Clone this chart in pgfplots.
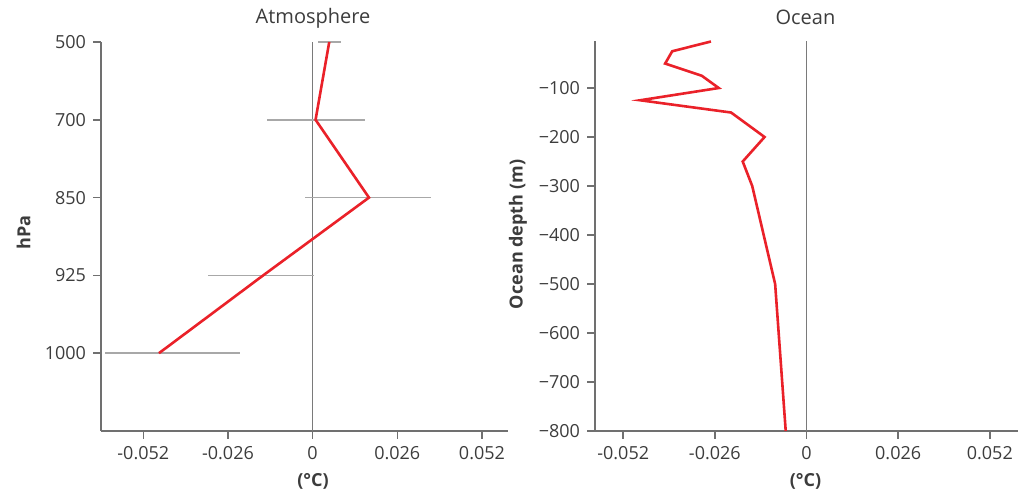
\documentclass[border=0pt]{standalone}
\usepackage{fontspec}
\setmainfont{Open Sans}
\usepackage{pgfplots}
\pgfplotsset{compat=1.18}
\usepackage{pgfplotstable}

\definecolor{txt}{HTML}{3C3C3C}
\definecolor{axline}{HTML}{707070}
\definecolor{zeroline}{HTML}{7A7A7A}
\definecolor{errgray}{HTML}{A8A8A8}
\definecolor{linered}{HTML}{EA2129}

% atmosphere: level index (5 = 500 hPa ... 1 = 1000 hPa), anomaly, error minus/plus
\pgfplotstableread{
lev x       em     ep
5    0.0051 0.0035 0.0035
4    0.0009 0.0149 0.0153
3    0.0173 0.0196 0.0189
2   -0.0152 0.0168 0.0157
1   -0.0472 0.0165 0.0248
}\atmos

% ocean: anomaly vs depth
\pgfplotstableread{
x        d
-0.0271  -5
-0.0381  -25
-0.0401  -50
-0.0297  -75
-0.0249  -100
-0.0472  -125
-0.0214  -150
-0.0119  -200
-0.0181  -250
-0.0154  -300
-0.0089  -500
-0.0059  -800
}\ocean

\pgfplotsset{
  panel/.style={
    anchor=south west, scale only axis,
    axis x line=bottom, axis y line=left,
    axis line style={-, axline, line width=0.75pt},
    tick style={axline, line width=0.75pt},
    tick align=outside, major tick length=4pt,
    tick label style={font=\fontsize{9}{10}\selectfont, text=txt},
    scaled x ticks=false, scaled y ticks=false,
    xtick={-0.052,-0.026,0,0.026,0.052},
    xticklabels={-0.052,-0.026,0,0.026,0.052},
    label style={font=\bfseries\fontsize{9}{10}\selectfont, text=txt},
    title style={font=\fontsize{10}{12}\selectfont, text=txt, anchor=base},
    xlabel={(°C)},
    clip=false,
  },
}

\begin{document}
\begin{tikzpicture}
\path[use as bounding box] (0,0) rectangle (513pt,245.5pt);

\begin{axis}[panel,
  at={(50.5pt,30pt)}, width=203.5pt, height=194.5pt,
  xmin=-0.065, xmax=0.06, ymin=0, ymax=5,
  ytick={1,2,3,4,5}, yticklabels={1000,925,850,700,500},
  ylabel={hPa},
  ylabel style={at={(axis description cs:-0.19,0.51)}, anchor=center},
  xlabel style={at={(axis description cs:0.521,0)}, anchor=base, yshift=-27.8pt},
  title={Atmosphere},
  title style={at={(axis description cs:0.521,1)}, yshift=3pt},
]
\addplot[zeroline, line width=0.5pt, forget plot] coordinates {(0,0) (0,5)};
\addplot[draw=none, mark=none, forget plot,
  error bars/.cd, x dir=both, x explicit, error mark=none,
  error bar style={draw=errgray, line width=0.75pt}]
  table[x=x, y=lev, x error plus=ep, x error minus=em] {\atmos};
\addplot[linered, line width=1.3pt, mark=none] table[x=x, y=lev] {\atmos};
\end{axis}

\begin{axis}[panel,
  at={(297.5pt,30pt)}, width=211.5pt, height=195pt,
  xmin=-0.06, xmax=0.06, ymin=-800, ymax=-4,
  ytick={-800,-700,-600,-500,-400,-300,-200,-100},
  yticklabels={−800,−700,−600,−500,−400,−300,−200,−100},
  ylabel={Ocean depth (m)},
  ylabel style={at={(axis description cs:-0.182,0.504)}, anchor=center},
  xlabel style={at={(axis description cs:0.4976,0)}, anchor=base, yshift=-27.8pt},
  title={Ocean},
  title style={at={(axis description cs:0.4976,1)}, yshift=2.4pt},
]
\addplot[zeroline, line width=0.5pt, forget plot] coordinates {(0,-800) (0,-4)};
\addplot[linered, line width=1.3pt, mark=none] table[x=x, y=d] {\ocean};
\end{axis}
\end{tikzpicture}
\end{document}
